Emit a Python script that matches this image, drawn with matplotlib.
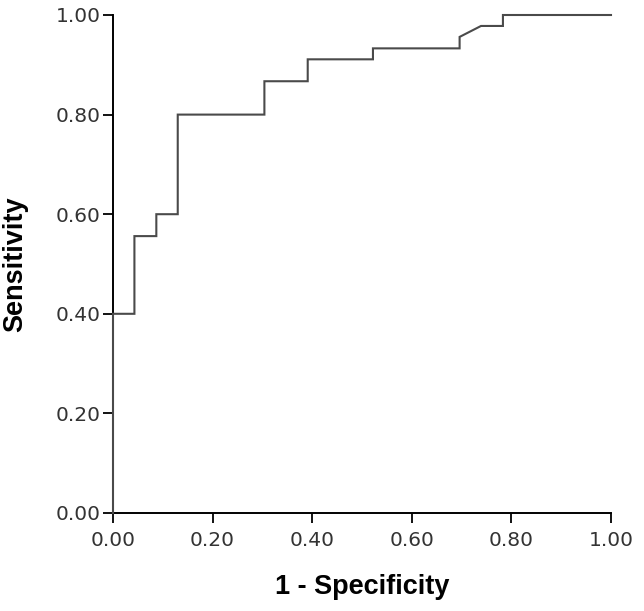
import matplotlib
matplotlib.use("Agg")
import matplotlib.pyplot as plt

# ROC curve points (1 - specificity, sensitivity)
fpr = [0.0, 0.0, 0.043, 0.043, 0.087, 0.087, 0.130, 0.130, 0.304, 0.304,
       0.391, 0.391, 0.522, 0.522, 0.696, 0.696, 0.739, 0.783, 0.783, 1.0]
tpr = [0.0, 0.400, 0.400, 0.556, 0.556, 0.600, 0.600, 0.800, 0.800, 0.867,
       0.867, 0.911, 0.911, 0.933, 0.933, 0.956, 0.978, 0.978, 1.0, 1.0]
ticks = [0.0, 0.2, 0.4, 0.6, 0.8, 1.0]
tick_labels = ["0.00", "0.20", "0.40", "0.60", "0.80", "1.00"]

fig = plt.figure(figsize=(6.44, 6.11), dpi=100)
ax = fig.add_axes([113 / 644, 98 / 611, 498 / 644, 498 / 611])

ax.plot(fpr, tpr, color="#4a4a4a", lw=1.5, solid_joinstyle="miter",
        zorder=3, clip_on=False)

ax.set_xlim(0, 1)
ax.set_ylim(0, 1)
ax.set_xticks(ticks)
ax.set_yticks(ticks)
ax.set_xticklabels(tick_labels)
ax.set_yticklabels(tick_labels)

for s in ["top", "right"]:
    ax.spines[s].set_visible(False)
for s in ["left", "bottom"]:
    ax.spines[s].set_linewidth(1.4)
    ax.spines[s].set_color("black")
    ax.spines[s].set_zorder(2)

ax.tick_params(axis="both", direction="out", length=7, width=1.3,
               color="black", labelcolor="#333333", labelsize=14.5,
               labelfontfamily="DejaVu Sans")
ax.tick_params(axis="x", pad=6)
ax.tick_params(axis="y", pad=2)

ax.set_xlabel("1 - Specificity", fontsize=19.5, fontweight="bold",
              family="Liberation Sans", color="black")
ax.set_ylabel("Sensitivity", fontsize=19.5, fontweight="bold",
              family="Liberation Sans", color="black")
ax.xaxis.set_label_coords(0.5, (513 - 587) / 498)
ax.yaxis.set_label_coords((15 - 113) / 498, 0.5)
ax.xaxis.label.set_va("center")
ax.yaxis.label.set_va("center")

fig.savefig("out.png", dpi=100)
